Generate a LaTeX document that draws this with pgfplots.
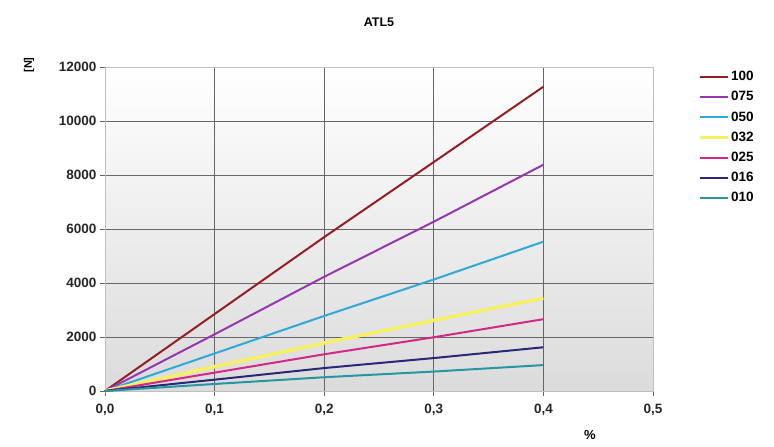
\documentclass[border=0pt]{standalone}
\usepackage{pgfplots}
\pgfplotsset{compat=1.18}
\usepackage{fontspec}
\setmainfont{Liberation Sans}
\definecolor{c100}{RGB}{150,30,35}
\definecolor{c075}{RGB}{150,55,175}
\definecolor{c050}{RGB}{45,170,215}
\definecolor{c032}{RGB}{245,240,100}
\definecolor{c025}{RGB}{210,40,135}
\definecolor{c016}{RGB}{40,40,120}
\definecolor{c010}{RGB}{40,150,160}
\begin{document}
\begin{tikzpicture}
\begin{axis}[
  scale only axis,
  width=548pt, height=324pt,
  xmin=0, xmax=0.5, ymin=0, ymax=12000,
  xtick={0,0.1,0.2,0.3,0.4,0.5},
  ytick={0,2000,4000,6000,8000,10000,12000},
  xticklabels={0{,}0,0{,}1,0{,}2,0{,}3,0{,}4,0{,}5},
  scaled y ticks=false,
  yticklabel style={/pgf/number format/.cd,fixed,1000 sep={}},
  xticklabel style={yshift=-5pt},
  /pgf/number format/assume math mode=true,
  ticklabel style={font=\bfseries\fontsize{13.5}{15}\selectfont, text=black!85},
  grid=major,
  major grid style={draw=black!60, line width=0.9pt},
  axis line style={draw=black!25, line width=0.9pt},
  tick align=outside,
  major tick length=5pt,
  tick style={draw=black!60, line width=0.9pt},
  xtick pos=bottom, ytick pos=left,
  axis background/.style={top color=white, bottom color=black!14},
  title={ATL5},
  title style={font=\bfseries\fontsize{12.5}{14}\selectfont, at={(0.5,1)}, anchor=center, yshift=39pt},
  legend style={at={(1,1)}, anchor=north west, xshift=42pt, yshift=-1pt, draw=none, fill=none,
    font=\bfseries\fontsize{13.5}{14}\selectfont, row sep=7.3pt,
    nodes={inner sep=1pt}},
  legend cell align=left,
  legend image code/.code={\draw[#1] (0cm,0cm) -- (1cm,0cm);},
  clip=false,
]
\addplot[c100, line width=2pt] coordinates {(0,0) (0.1,2850) (0.2,5700) (0.3,8480) (0.4,11270)};
\addlegendentry{100}
\addplot[c075, line width=2pt] coordinates {(0,0) (0.1,2100) (0.2,4230) (0.3,6270) (0.4,8380)};
\addlegendentry{075}
\addplot[c050, line width=2pt] coordinates {(0,0) (0.1,1390) (0.2,2780) (0.3,4130) (0.4,5530)};
\addlegendentry{050}
\addplot[c032, line width=3.5pt] coordinates {(0,0) (0.1,900) (0.2,1780) (0.3,2620) (0.4,3440)};
\addlegendentry{032}
\addplot[c025, line width=2pt] coordinates {(0,0) (0.1,680) (0.2,1360) (0.3,1990) (0.4,2660)};
\addlegendentry{025}
\addplot[c016, line width=2pt] coordinates {(0,0) (0.1,420) (0.2,850) (0.3,1220) (0.4,1620)};
\addlegendentry{016}
\addplot[c010, line width=2pt] coordinates {(0,0) (0.1,260) (0.2,510) (0.3,720) (0.4,960)};
\addlegendentry{010}
\node[font=\bfseries\fontsize{11}{13}\selectfont, anchor=center, rotate=90] at ([shift={(-76pt,2pt)}]rel axis cs:0,1) {[N]};
\node[font=\bfseries\fontsize{13}{14}\selectfont, anchor=center] at ([shift={(0pt,-44pt)}]rel axis cs:0.885,0) {\%};
\coordinate (SW) at (rel axis cs:0,0);
\coordinate (NE) at (rel axis cs:1,1);
\end{axis}
\pgfresetboundingbox
\path[use as bounding box] ([shift={(-105pt,-55pt)}]SW) rectangle ([shift={(121pt,67pt)}]NE);
\end{tikzpicture}
\end{document}
